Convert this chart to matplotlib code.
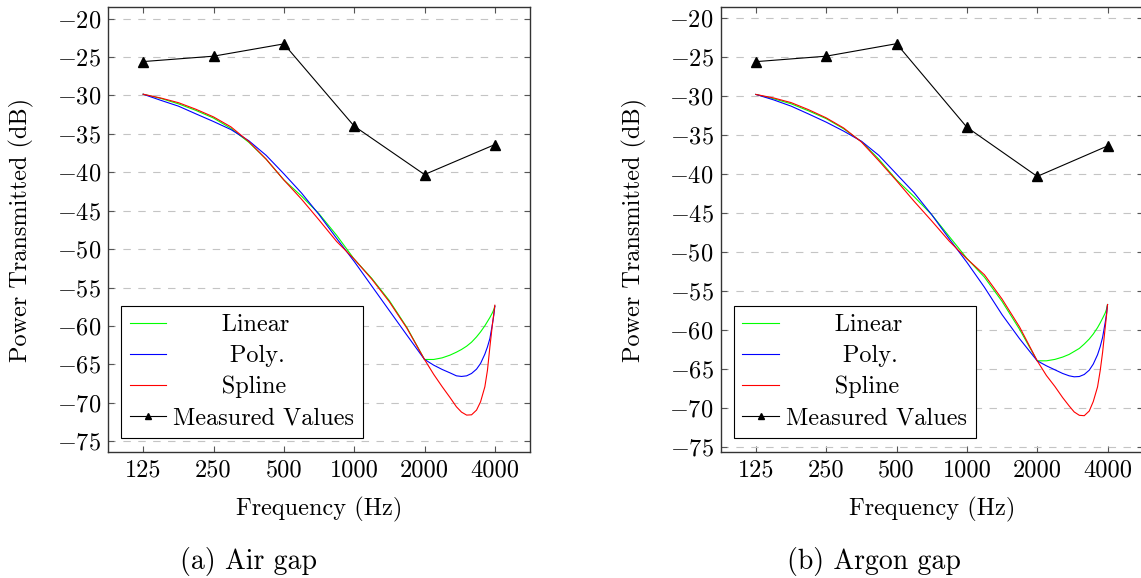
import matplotlib.pyplot as plt

plt.rcParams['font.family'] = 'serif'
plt.rcParams['font.serif'] = ['cmr10']
plt.rcParams['mathtext.fontset'] = 'cm'
plt.rcParams['axes.formatter.use_mathtext'] = True

# octave bands and measured transmission
bands = [125, 250, 500, 1000, 2000, 4000]
band_labels = ['125', '250', '500', '1000', '2000', '4000']
measured_air = [-25.6, -24.9, -23.3, -34.0, -40.3, -36.4]
measured_argon = [-25.6, -24.9, -23.3, -34.0, -40.3, -36.4]

freq = [125, 149, 177, 210, 250, 297, 354, 420, 500, 595, 707, 841, 1000,
        1189, 1414, 1682,
        2000, 2190, 2380, 2570, 2740, 2880, 3030, 3180, 3340, 3475, 3625,
        3720, 3810, 3910, 3960, 4000]

# (a) air gap
air_linear = [-29.85, -30.4, -31.1, -31.95, -32.95, -34.3, -36.1, -38.3, -41.0,
              -43.1, -45.4, -48.2, -51.3, -53.8, -56.7, -60.2,
              -64.36, -64.36, -64.15, -63.8, -63.41, -63.06, -62.63, -62.11,
              -61.42, -60.77, -59.98, -59.42, -58.9, -58.25, -57.86, -57.43]
air_poly = [-29.85, -30.65, -31.4, -32.4, -33.4, -34.45, -35.9, -37.8, -40.2,
            -42.7, -45.5, -48.6, -51.6, -54.8, -58.0, -61.2,
            -64.36, -65.1, -65.66, -66.1, -66.49, -66.57, -66.49, -66.18,
            -65.62, -64.88, -63.67, -62.72, -61.63, -59.68, -58.6, -57.43]
air_spline = [-29.85, -30.35, -30.95, -31.8, -32.8, -34.1, -36.0, -38.3, -41.0,
              -43.5, -46.2, -49.0, -51.3, -53.9, -56.85, -60.3,
              -64.36, -66.3, -67.9, -69.3, -70.52, -71.21, -71.6, -71.56,
              -70.95, -69.87, -67.92, -65.75, -62.72, -59.68, -58.38, -57.3]

# (b) argon gap
argon_linear = [-29.8, -30.35, -31.0, -31.9, -32.9, -34.2, -35.85, -38.1, -40.75,
                -42.9, -45.2, -48.0, -50.8, -53.2, -56.3, -59.9,
                -63.92, -63.92, -63.74, -63.44, -63.1, -62.72, -62.33, -61.77,
                -61.13, -60.49, -59.67, -59.07, -58.47, -57.79, -57.31, -56.71]
argon_poly = [-29.8, -30.5, -31.3, -32.3, -33.35, -34.5, -35.8, -37.6, -40.0,
              -42.4, -45.2, -48.3, -51.3, -54.5, -58.0, -61.1,
              -63.92, -64.56, -65.07, -65.54, -65.84, -65.97, -65.93, -65.67,
              -65.12, -64.34, -63.14, -62.12, -60.92, -58.99, -57.91, -56.71]
argon_spline = [-29.8, -30.25, -30.85, -31.75, -32.8, -34.1, -35.9, -38.3, -40.85,
                -43.5, -46.0, -48.6, -50.85, -52.9, -56.0, -59.6,
                -63.92, -65.8, -67.2, -68.63, -69.7, -70.47, -70.9, -70.95,
                -70.35, -69.14, -67.26, -65.2, -62.84, -59.63, -58.13, -56.71]

yticks = list(range(-75, -15, 5))

W, H = 1141, 578
fig = plt.figure(figsize=(W / 100, H / 100), dpi=100)
ax_l = fig.add_axes([108 / W, 126 / H, 422 / W, 445 / H])
ax_r = fig.add_axes([720.7 / W, 126 / H, 422 / W, 445 / H])

FS = 17.5


def draw(ax, linear, poly, spline, measured, ylim):
    ax.set_xscale('log', base=2)
    ax.plot(freq, linear, color='#00ff00', lw=0.8, label='      Linear')
    ax.plot(freq, poly, color='#0000ff', lw=0.8, label='       Poly.')
    ax.plot(freq, spline, color='#ff0000', lw=0.8, label='      Spline')
    ax.plot(bands, measured, color='black', lw=0.8, marker='^', markersize=7,
            label='Measured Values')
    ax.set_xlim(125 / 2 ** 0.5, 4000 * 2 ** 0.5)
    ax.set_ylim(*ylim)
    ax.set_xticks(bands, band_labels)
    ax.minorticks_off()
    ax.set_yticks(yticks)
    ax.yaxis.grid(True, color='#c4c4c4', lw=0.8, dashes=(6.7, 6.7))
    ax.set_axisbelow(True)
    ax.tick_params(direction='in', length=4.5, width=0.8, color='#555555',
                   top=True, right=True, labelsize=FS, pad=5)
    for s in ax.spines.values():
        s.set_color('#333333')
        s.set_linewidth(1.0)
    ax.set_xlabel('Frequency (Hz)', fontsize=FS)
    ax.xaxis.label.set_va('baseline')
    ax.xaxis.set_label_coords(0.5, -0.1416)
    ax.set_ylabel('Power Transmitted (dB)', fontsize=FS)
    ax.yaxis.label.set_va('center')
    ax.yaxis.set_label_coords(-0.204, 0.5)
    leg = ax.legend(loc='lower left', bbox_to_anchor=(0.031, 0.032),
                    borderaxespad=0, fontsize=FS, fancybox=False,
                    edgecolor='black', framealpha=1, handlelength=1.5,
                    handletextpad=0.3, labelspacing=0.36, borderpad=0.35,
                    markerscale=0.7)
    leg.get_frame().set_linewidth(0.8)


draw(ax_l, air_linear, air_poly, air_spline, measured_air, (-76.4, -18.5))
draw(ax_r, argon_linear, argon_poly, argon_spline, measured_argon, (-75.6, -18.6))

fig.text(248.5 / W, 1 - 569 / H, '(a) Air gap', ha='center', va='baseline', fontsize=20)
fig.text(873.5 / W, 1 - 569 / H, '(b) Argon gap', ha='center', va='baseline', fontsize=20)

fig.savefig('out.png', dpi=100)
